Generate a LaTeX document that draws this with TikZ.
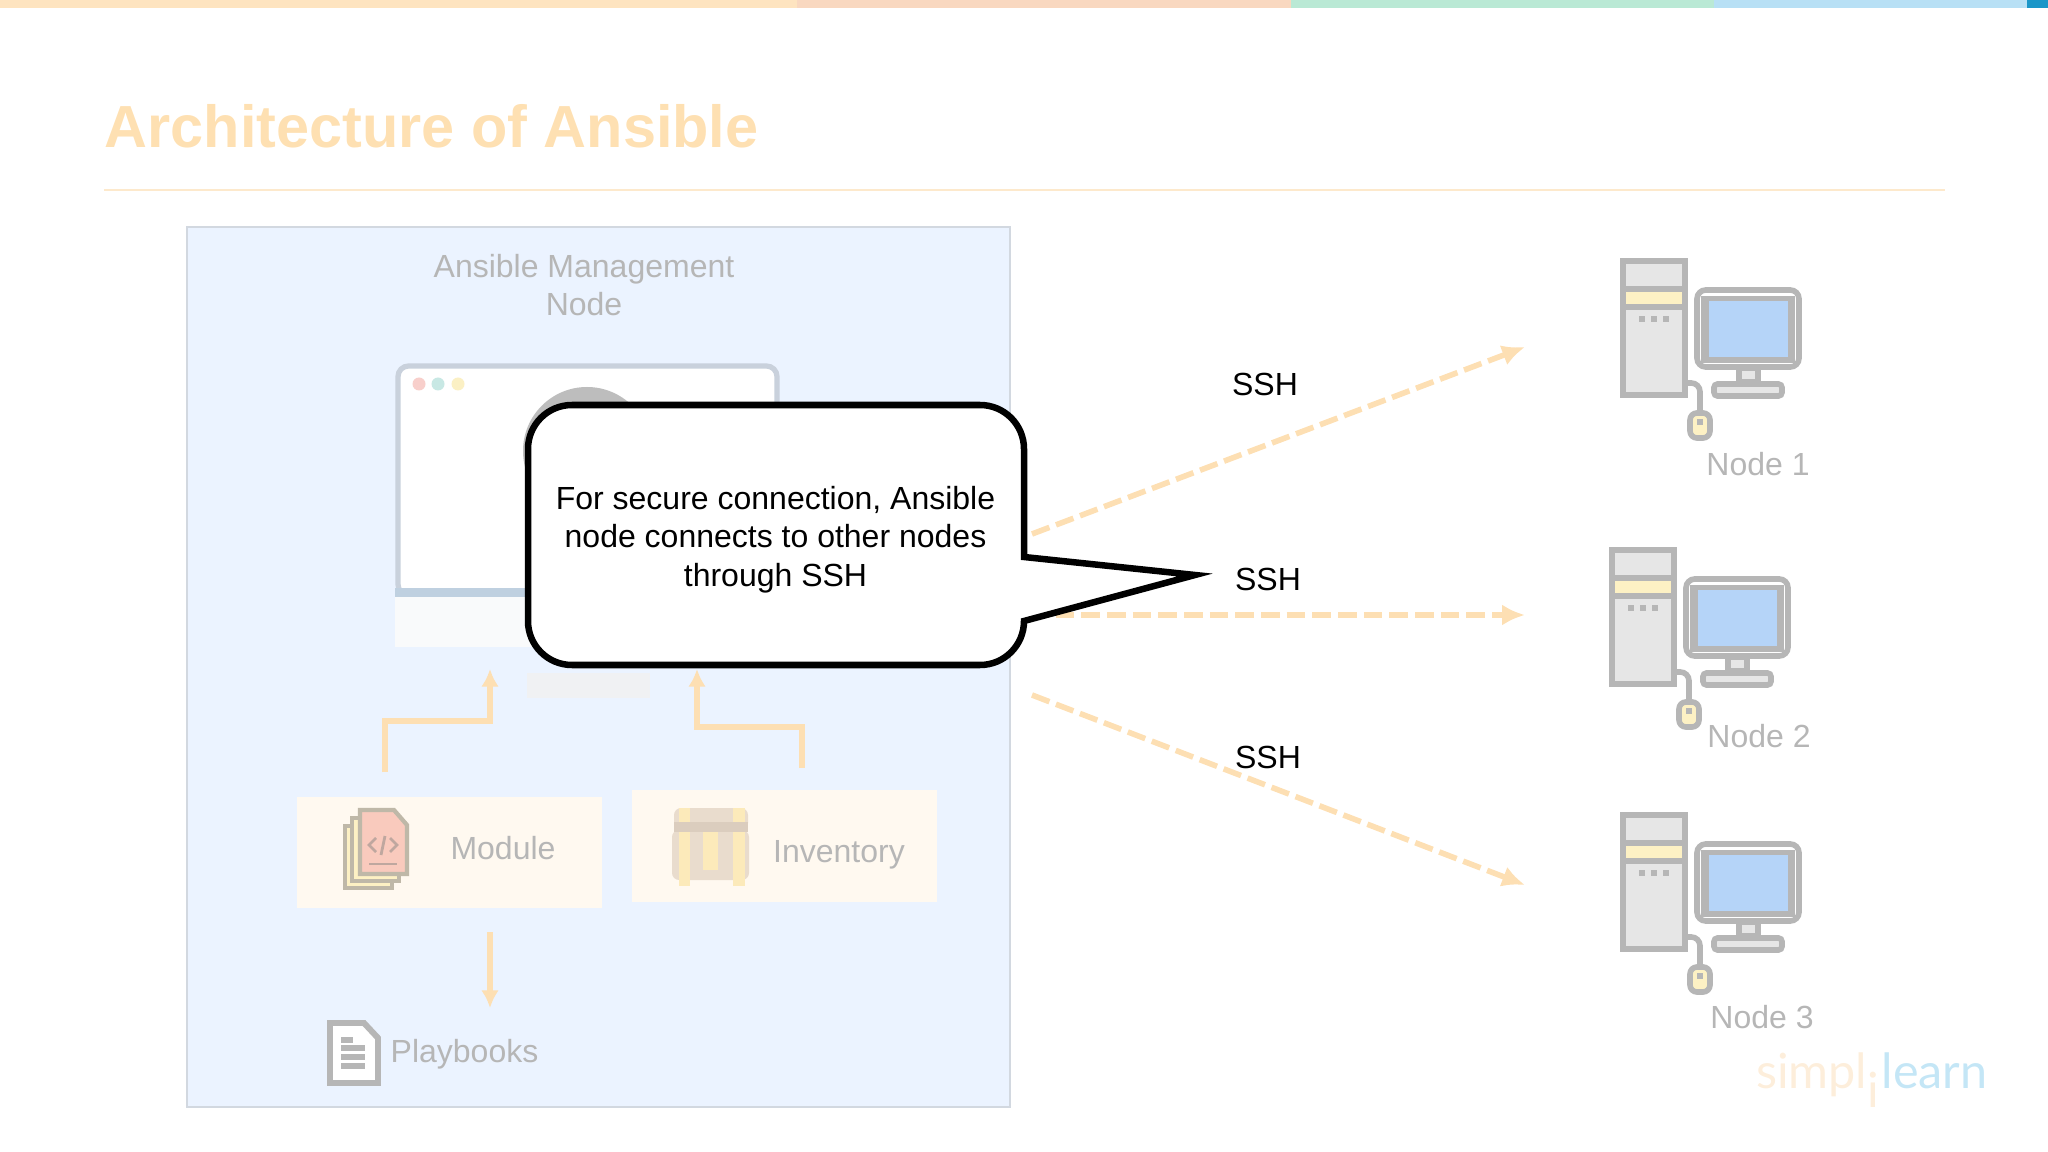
\documentclass[tikz,border=0pt]{standalone}
\usepackage{fontspec}
\setmainfont{Liberation Sans}
\newfontfamily\logofont{Lato}
\usetikzlibrary{arrows.meta}
\definecolor{titleorange}{HTML}{FEE0B2}
\definecolor{ruleorange}{HTML}{FDE9CC}
\definecolor{arroworange}{HTML}{FDDFB3}
\definecolor{panelblue}{HTML}{EBF3FF}
\definecolor{panelline}{HTML}{D2D8E0}
\definecolor{softcream}{HTML}{FFF9F0}
\definecolor{softgrey}{HTML}{B6B6B6}
\definecolor{lightgrey}{HTML}{E6E6E6}
\definecolor{softyellow}{HTML}{FDF1C4}
\definecolor{screenblue}{HTML}{B5D4F8}
\definecolor{framegrey}{HTML}{C9D1DC}
\definecolor{logoblue}{HTML}{C4E6F6}
\definecolor{logoorange}{HTML}{FDEEDB}
\definecolor{barorange}{HTML}{FEE4C0}
\definecolor{barpeach}{HTML}{F9D8C0}
\definecolor{bargreen}{HTML}{BAE9D5}
\definecolor{barblue}{HTML}{B8E0F5}
\definecolor{bardark}{HTML}{1A96C8}
\definecolor{monbar}{HTML}{BFD0E0}
\definecolor{monchin}{HTML}{F9FAFB}
\definecolor{monbase}{HTML}{F0F1F3}
\definecolor{dotpink}{HTML}{F8CFCB}
\definecolor{dotteal}{HTML}{C8E8E4}
\definecolor{dotyellow}{HTML}{FBF0C4}
\definecolor{avatargrey}{HTML}{BDBDBD}
\definecolor{sheetline}{HTML}{BFB8A8}
\definecolor{sheetpink}{HTML}{F9CABD}
\definecolor{codeline}{HTML}{BFA79F}
\definecolor{chestbody}{HTML}{E9DCCD}
\definecolor{chestband}{HTML}{DBCDBE}
\definecolor{chestgold}{HTML}{FCEABA}
\tikzset{
  greylabel/.style={text=softgrey,font=\fontsize{9.1}{10.95}\selectfont,align=center,inner sep=0pt},
  blacklabel/.style={text=black,font=\fontsize{9.1}{10.95}\selectfont,align=center,inner sep=0pt},
  softbox/.style={fill=softcream,minimum width=3.05cm,minimum height=1.11cm,inner sep=0pt},
  sshline/.style={draw=arroworange,line width=1.6pt,dash pattern=on 5.3pt off 2pt,-{Latex[length=6.5pt,width=6pt]}},
  flowline/.style={draw=arroworange,line width=1.45pt,-{Latex[length=5pt,width=5pt]}},
  iconline/.style={draw=softgrey,line width=1.6pt},
  pics/desktop/.style={code={
      \draw[iconline,fill=lightgrey] (3,3) rectangle (65,137);
      \fill[softyellow] (6,34) rectangle (62,46);
      \draw[iconline] (3,31) -- (65,31);
      \draw[iconline] (3,49) -- (65,49);
      \fill[softgrey] (19,58) rectangle (25,64);
      \fill[softgrey] (31,58) rectangle (37,64);
      \fill[softgrey] (43,58) rectangle (49,64);
      \draw[iconline,fill=white,rounded corners=2.5pt] (77,32) rectangle (179,109);
      \fill[softgrey] (81,38) rectangle (175,105);
      \fill[screenblue] (89,43) rectangle (168,99);
      \draw[iconline,fill=lightgrey] (119,110) rectangle (138,124);
      \draw[iconline,fill=lightgrey,rounded corners=1pt] (94,138) -- (94,126) -- (162,126) -- (162,138) -- cycle;
      \draw[iconline,rounded corners=2.5pt] (65,125) -- (80,125) -- (80,155);
      \draw[iconline,fill=softyellow,rounded corners=2pt] (70,155) rectangle (90,180);
      \fill[softgrey] (77,161) rectangle (83,167);
  }},
}
\begin{document}
\begin{tikzpicture}[x=0.01cm,y=-0.01cm]
      \useasboundingbox (0,0) rectangle (2048,1152);
      
      \fill[barorange] (0,0) rectangle (797,8);
      \fill[barpeach] (797,0) rectangle (1291,8);
      \fill[bargreen] (1291,0) rectangle (1714,8);
      \fill[barblue] (1714,0) rectangle (2027,8);
      \fill[bardark] (2027,0) rectangle (2048,8);
      
      \node [anchor=west,inner sep=0pt,text=titleorange,font=\fontsize{16.9}{20}\selectfont\bfseries] (title) at (104,126) {Architecture of Ansible};
      \coordinate (RuleL) at (104,190);
      \coordinate (RuleR) at (1945,190);
      \draw[ruleorange,line width=0.7pt] (RuleL) -- (RuleR);
      
      \draw[panelline,fill=panelblue,line width=0.6pt] (187,227) rectangle (1010,1107);
      \node [greylabel] (mgmt) at (584,285) {Ansible Management\\Node};
      
      % monitor
      \draw[framegrey,fill=white,line width=1.5pt,rounded corners=3pt] (398,366) -- (777,366) -- (777,595) -- (398,595) -- cycle;
      \fill[monbar] (395,588) rectangle (780,597);
      \fill[monchin] (395,597) rectangle (780,647);
      \fill[monbase] (527,673) rectangle (650,698);
      \fill[dotpink] (419,384) circle (6.5);
      \fill[dotteal] (438,384) circle (6.5);
      \fill[dotyellow] (458,384) circle (6.5);
      \fill[avatargrey] (587,451) circle (64);
      
      % boxes under the monitor
      \node [softbox] (modulebox) at (449.5,852.5) {};
      \node [softbox] (inventorybox) at (784.5,846) {};
      \node [greylabel] (module) at (503,848) {Module};
      \node [greylabel] (inventory) at (839,855) {Inventory};
      \node [greylabel,anchor=west] (playbooks) at (390,1054) {Playbooks};
      
      \coordinate (M1) at (385,772);
      \coordinate (M2) at (385,721);
      \coordinate (M3) at (490,721);
      \coordinate (M4) at (490,669);
      \coordinate (I1) at (802,768);
      \coordinate (I2) at (802,727);
      \coordinate (I3) at (697,727);
      \coordinate (I4) at (697,669);
      \coordinate (P1) at (490,932);
      \coordinate (P2) at (490,1008);
      \draw[flowline] (M1) -- (M2) -- (M3) -- (M4);
      \draw[flowline] (I1) -- (I2) -- (I3) -- (I4);
      \draw[flowline] (P1) -- (P2);
      
      % module icon
      \draw[draw=sheetline,fill=softyellow,line width=1.2pt] (345,826) rectangle (392,888);
      \draw[draw=sheetline,fill=softyellow,line width=1.2pt] (352,818) rectangle (399,881);
      \draw[draw=sheetline,fill=sheetpink,line width=1.2pt] (360,810) -- (394,810) -- (407,825) -- (407,874) -- (360,874) -- cycle;
      \draw[codeline,line width=0.8pt] (376,838) -- (369,845) -- (376,852);
      \draw[codeline,line width=0.8pt] (390,838) -- (397,845) -- (390,852);
      \draw[codeline,line width=0.8pt] (385,836) -- (381,855);
      \draw[codeline,line width=0.8pt] (369,864) -- (397,864);
      
      % chest icon
      \fill[chestbody,rounded corners=2pt] (672,830) rectangle (749,880);
      \fill[chestbody,rounded corners=2pt] (674,808) rectangle (748,830);
      \fill[chestband] (674,822) rectangle (748,832);
      \fill[chestgold] (679,808) rectangle (690,822);
      \fill[chestgold] (733,808) rectangle (745,822);
      \fill[chestgold] (679,832) rectangle (690,886);
      \fill[chestgold] (733,832) rectangle (745,886);
      \fill[chestgold] (703,832) rectangle (718,870);
      
      % playbooks icon
      \draw[iconline,fill=white,line width=1.7pt] (330,1023) -- (364,1023) -- (378,1038) -- (378,1083) -- (330,1083) -- cycle;
      \draw[iconline] (341,1040) -- (353,1040);
      \draw[iconline] (341,1048) -- (365,1048);
      \draw[iconline] (341,1057) -- (365,1057);
      \draw[iconline] (341,1066) -- (365,1066);
      
      % ssh connections
      \coordinate (A1) at (1032,534);
      \coordinate (B1) at (1525,347);
      \coordinate (A2) at (1030,615);
      \coordinate (B2) at (1525,615);
      \coordinate (A3) at (1032,695);
      \coordinate (B3) at (1525,885);
      \draw[sshline] (A1) -- (B1);
      \draw[sshline] (A2) -- (B2);
      \draw[sshline] (A3) -- (B3);
      \node [blacklabel] (sshA) at (1265,384) {SSH};
      \node [blacklabel] (sshB) at (1268,579) {SSH};
      \node [blacklabel] (sshC) at (1268,757) {SSH};
      
      % computers
      \pic at (1620,258) {desktop};
      \pic at (1609,547) {desktop};
      \pic at (1620,812) {desktop};
      \node [greylabel] (node1) at (1758,464) {Node 1};
      \node [greylabel] (node2) at (1759,736) {Node 2};
      \node [greylabel] (node3) at (1762,1017) {Node 3};
      
      % logo
      \node [anchor=base east,inner sep=0pt,text=logoorange,font=\fontsize{13.8}{16}\logofont] (logoA) at (1868,1088) {simpl};
      \node [anchor=base,inner sep=0pt,text=logoorange,font=\fontsize{13.8}{16}\logofont] (logoB) at (1873,1107) {i};
      \node [anchor=base west,inner sep=0pt,text=logoblue,font=\fontsize{13.8}{16}\logofont] (logoC) at (1881,1088) {learn};
      
      % speech bubble
      \coordinate (T1) at (1024,557);
      \coordinate (T2) at (1195,575);
      \coordinate (T3) at (1024,621);
      \draw[black,fill=white,line width=1.85pt,miter limit=10] (T1) -- (T2) -- (T3) [rounded corners=12.5pt] -- (1024,665) -- (528,665) -- (528,405) -- (1024,405) [sharp corners] -- cycle;
      \node [blacklabel] (speech) at (775.5,539.5) {For secure connection, Ansible\\node connects to other nodes\\through SSH};
      
    \end{tikzpicture}
\end{document}
